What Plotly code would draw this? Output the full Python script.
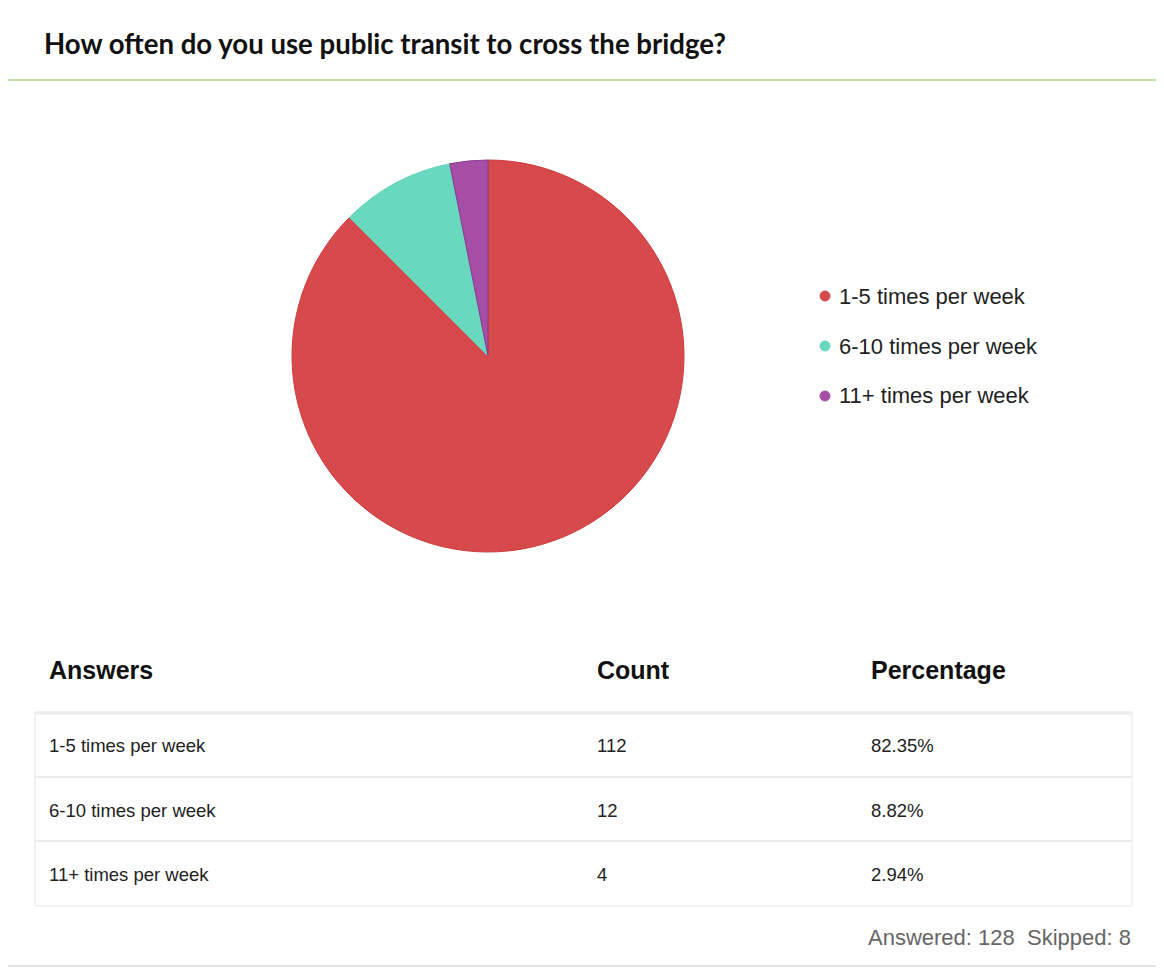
import plotly.graph_objects as go

# ---- data ----
answers = ["1-5 times per week", "6-10 times per week", "11+ times per week"]
counts = [112, 12, 4]
percentages = ["82.35%", "8.82%", "2.94%"]
table_headers = ["Answers", "Count", "Percentage"]
answered = 128
skipped = 8
title_text = "How often do you use public transit to cross the bridge?"
colors = ["#d64a4b", "#68d8bf", "#a64ea5"]
edge_colors = ["#d0393b", "#62d2b8", "#8a3a8a"]

# page body has an 8px margin; the figure is sized to fit the window
OFF = 8
W, H = 1164 - OFF, 969 - OFF

def px_x(x):
    return (x - OFF) / W

def px_y(y):
    return 1 - (y - OFF) / H

fig = go.Figure()

fig.add_trace(go.Pie(
    labels=answers,
    values=counts,
    sort=False,
    direction="clockwise",
    rotation=0,
    textinfo="none",
    hoverinfo="label+value+percent",
    marker=dict(colors=colors, line=dict(color=edge_colors, width=1)),
    domain=dict(x=[px_x(292), px_x(684)], y=[px_y(552), px_y(160)]),
    showlegend=False,
))

fig.add_trace(go.Table(
    domain=dict(x=[px_x(41), px_x(1132)], y=[px_y(930), px_y(648)]),
    columnwidth=[548, 274, 269],
    header=dict(
        values=["<b>" + h + "</b>" for h in table_headers],
        align="left",
        height=82,
        font=dict(family="Liberation Sans, Arial", size=25, color="#111111"),
        fill_color="white",
        line_color="white",
    ),
    cells=dict(
        values=[answers, [str(c) for c in counts], percentages],
        align="left",
        height=64.7,
        font=dict(family="Liberation Sans, Arial", size=18.5, color="#222222"),
        fill_color="white",
        line_color="white",
    ),
))

shapes = []
annotations = []

# container border
shapes.append(dict(type="rect", xref="paper", yref="paper",
                   x0=px_x(2), x1=px_x(1162), y0=px_y(966), y1=px_y(4),
                   line=dict(color="#e3e3e3", width=2), fillcolor="rgba(0,0,0,0)"))
# green separator
shapes.append(dict(type="line", xref="paper", yref="paper",
                   x0=px_x(2), x1=px_x(1162), y0=px_y(80), y1=px_y(80),
                   line=dict(color="#bfe0ad", width=2)))

# title
annotations.append(dict(text="<b>" + title_text + "</b>", xref="paper", yref="paper",
                        x=px_x(42), y=px_y(44), xanchor="left", yanchor="middle",
                        showarrow=False,
                        font=dict(family="Lato, Open Sans", size=27.6, color="#111111")))

# legend
legend_y = [296, 346, 396]
for lab, col, ly in zip(answers, colors, legend_y):
    shapes.append(dict(type="circle", xref="paper", yref="paper",
                       x0=px_x(820), x1=px_x(830), y0=px_y(ly + 5), y1=px_y(ly - 5),
                       line=dict(color=col, width=1), fillcolor=col))
    annotations.append(dict(text=lab, xref="paper", yref="paper",
                            x=px_x(837), y=px_y(ly), xanchor="left", yanchor="middle",
                            showarrow=False,
                            font=dict(family="Liberation Sans, Arial", size=22, color="#222222")))

# table box and separators
shapes.append(dict(type="rect", xref="paper", yref="paper",
                   x0=px_x(35), x1=px_x(1132), y0=px_y(906), y1=px_y(712),
                   line=dict(color="#e6e6e6", width=1), fillcolor="rgba(0,0,0,0)"))
shapes.append(dict(type="line", xref="paper", yref="paper",
                   x0=px_x(35), x1=px_x(1132), y0=px_y(713), y1=px_y(713),
                   line=dict(color="#ececec", width=3)))
for sy in [777, 841]:
    shapes.append(dict(type="line", xref="paper", yref="paper",
                       x0=px_x(35), x1=px_x(1132), y0=px_y(sy), y1=px_y(sy),
                       line=dict(color="#ececec", width=2)))

annotations.append(dict(text=f"Answered: {answered}  Skipped: {skipped}", xref="paper", yref="paper",
                        x=px_x(1133), y=px_y(937), xanchor="right", yanchor="middle",
                        showarrow=False,
                        font=dict(family="Liberation Sans, Arial", size=22, color="#666666")))

fig.update_layout(
    width=W, height=H,
    margin=dict(l=0, r=0, t=0, b=0),
    paper_bgcolor="white",
    plot_bgcolor="white",
    shapes=shapes,
    annotations=annotations,
)

fig.write_html("out.html")
